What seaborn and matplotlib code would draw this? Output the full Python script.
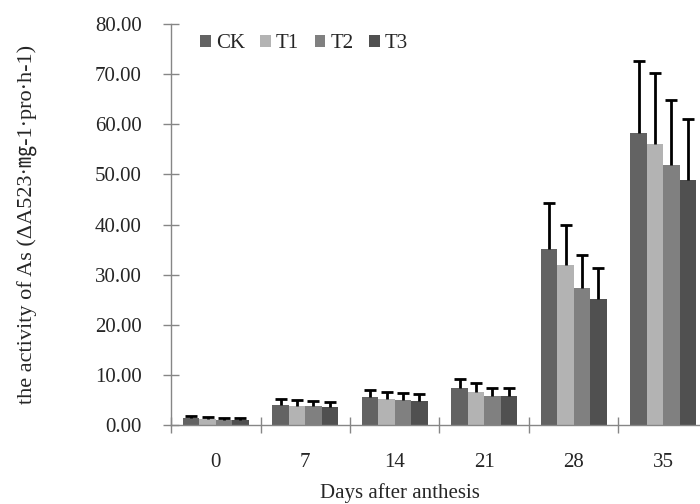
import numpy as np
import pandas as pd
import matplotlib
matplotlib.use("Agg")
import matplotlib.pyplot as plt
import seaborn as sns
from matplotlib.ticker import MultipleLocator, FixedLocator, FormatStrFormatter

# data
days = ["0", "7", "14", "21", "28", "35"]
groups = ["CK", "T1", "T2", "T3"]
ck_mean = [1.4, 4.0, 5.6, 7.3, 35.2, 58.2]
t1_mean = [1.1, 3.8, 5.2, 6.6, 32.0, 56.1]
t2_mean = [1.0, 3.7, 5.0, 5.85, 27.3, 51.8]
t3_mean = [1.0, 3.6, 4.85, 5.7, 25.1, 48.8]
ck_sd = [0.4, 1.1, 1.45, 1.9, 9.0, 14.5]
t1_sd = [0.4, 1.2, 1.45, 1.8, 8.0, 14.1]
t2_sd = [0.3, 1.15, 1.4, 1.55, 6.7, 13.0]
t3_sd = [0.3, 1.05, 1.35, 1.6, 6.3, 12.2]
colors = ["#636363", "#b3b3b3", "#808080", "#505050"]

means = [ck_mean, t1_mean, t2_mean, t3_mean]
sds = [ck_sd, t1_sd, t2_sd, t3_sd]

rows = []
for g, m, s in zip(groups, means, sds):
    for d, v, e in zip(days, m, s):
        rows.append({"day": d, "group": g, "value": v, "sd": e})
df = pd.DataFrame(rows)

sns.set_style("white")
plt.rcParams["font.family"] = ["Liberation Serif", "Noto Sans CJK SC", "DejaVu Sans"]

fig = plt.figure(figsize=(7, 5.04), dpi=100)
ax = fig.add_axes([171 / 700, 1 - 425 / 504, 537 / 700, 401 / 504])

sns.barplot(data=df, x="day", y="value", hue="group", order=days,
            hue_order=groups, palette=colors, width=0.735, gap=0,
            errorbar=None, saturation=1, linewidth=0, ax=ax)

# upper error bars only (hide the lower cap)
for cont, g in zip(ax.containers, groups):
    sub = df[df.group == g].set_index("day").loc[days]
    xs = [b.get_x() + b.get_width() / 2 for b in cont]
    eb = ax.errorbar(xs, sub["value"], yerr=[np.zeros(len(xs)), sub["sd"]],
                     fmt="none", ecolor="black", elinewidth=2, capsize=4,
                     capthick=2)
    eb[1][0].set_visible(False)

ax.set_ylim(0, 80)
ax.set_xlim(-0.5, 5.5)
ax.yaxis.set_major_locator(MultipleLocator(10))
ax.yaxis.set_major_formatter(FormatStrFormatter("%.2f"))

ax.xaxis.set_minor_locator(FixedLocator(np.arange(-0.5, 6, 1)))
ax.tick_params(axis="x", which="major", length=0, pad=20, labelsize=15)
ax.tick_params(axis="x", which="minor", length=12, direction="inout",
               color="#868686", width=1, bottom=True)
ax.tick_params(axis="y", which="major", length=12, direction="inout",
               color="#868686", width=1, left=True, pad=15, labelsize=15)

for side in ["top", "right"]:
    ax.spines[side].set_visible(False)
for side in ["left", "bottom"]:
    ax.spines[side].set_color("#868686")
    ax.spines[side].set_linewidth(1)

ax.set_xlabel("Days after anthesis", fontsize=15)
ax.xaxis.set_label_coords(0.426, -0.145)
ax.set_ylabel("the activity of As (\u0394A523\u00b7\u338e-1\u00b7pro\u00b7h-1)",
              fontsize=16)
ax.yaxis.set_label_coords(-0.248, 0.5)

leg = ax.legend(loc="upper left", bbox_to_anchor=(0.035, 1.0), ncol=4,
                frameon=False, fontsize=15, handlelength=0.5,
                handleheight=0.5, handletextpad=0.25, columnspacing=0.75,
                borderaxespad=0.1)

fig.savefig("out.png", dpi=100)
